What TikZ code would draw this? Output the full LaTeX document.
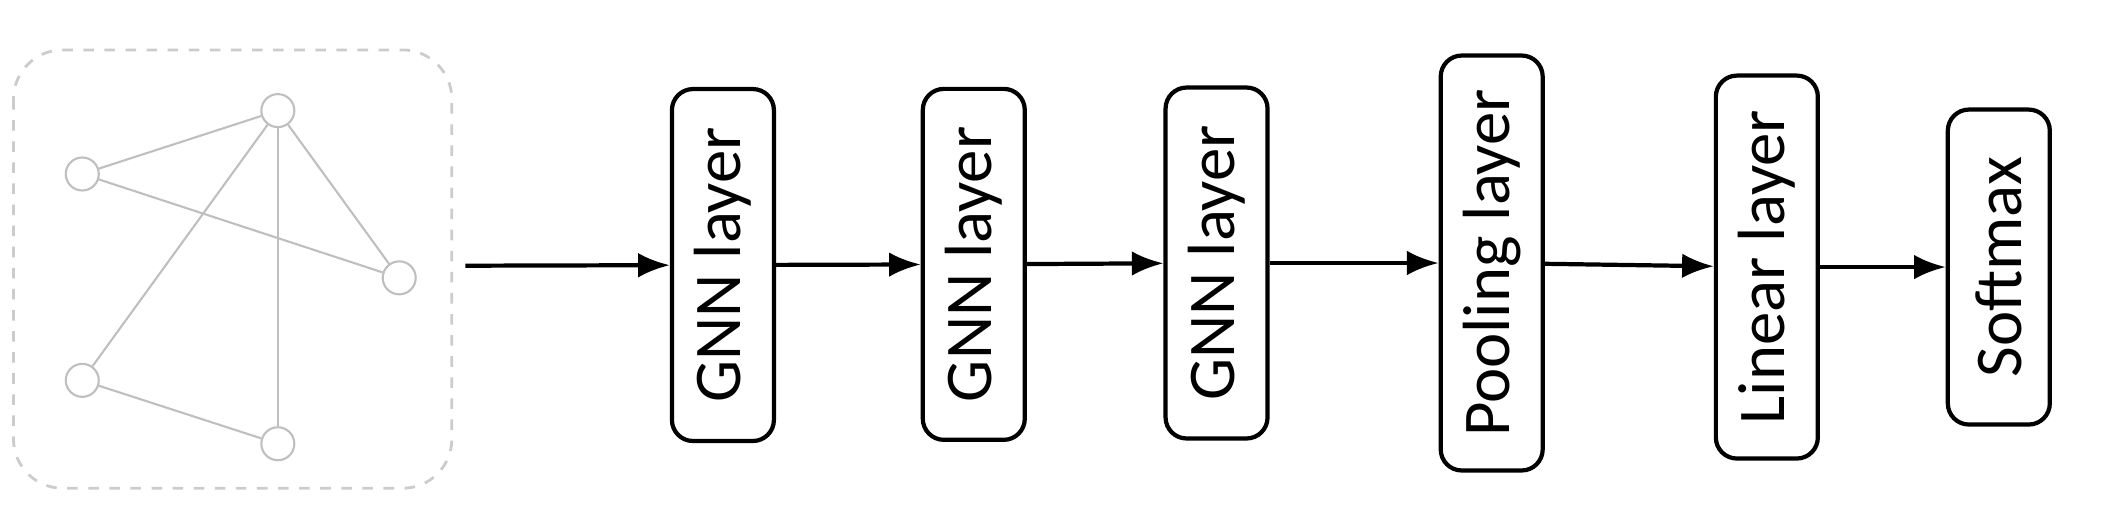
\documentclass[tikz,border=0pt]{standalone}
\usepackage{fontspec}
\setmainfont{Carlito}
\usetikzlibrary{positioning, arrows.meta}
\begin{document}
\begin{tikzpicture}[x=0.01349cm, y=-0.01349cm]
			\tikzset{arrow/.style={-{Latex[length=9pt,width=7pt]}, line width=1.2pt}}
			\tikzset{layer/.style={draw, line width=1.2pt, rounded corners=6pt, rotate=90, minimum height=1.02cm, inner sep=0pt, font=\fontsize{19}{22}\selectfont}}
			\tikzset{vertex/.style={draw=black!25, circle, fill=white, minimum size=0.33cm, inner sep=0pt, line width=0.6pt}}
			\tikzset{edge/.style={draw=black!25, line width=0.6pt}}

			\useasboundingbox (0,0) rectangle (1560,394);
			\draw[black!20, dashed, line width=0.8pt, rounded corners=14pt] (10,37) rectangle (335,362);

			\node (va) [vertex] at (61,129) {};
			\node (vb) [vertex] at (206,82) {};
			\node (vc) [vertex] at (296,206) {};
			\node (vd) [vertex] at (61,282) {};
			\node (ve) [vertex] at (206,329) {};
			\foreach \s/\e in {va/vb, va/vc, vb/vc, vb/vd, vb/ve, vd/ve}
				\draw[edge] (\s) -- (\e);

			\coordinate (in) at (345,197);
			\node (gnn1) [layer, minimum width=3.52cm] at (536,196.5) {GNN layer};
			\node (gnn2) [layer, minimum width=3.51cm] at (722,196) {GNN layer};
			\node (gnn3) [layer, minimum width=3.51cm] at (902,195) {GNN layer};
			\node (pool) [layer, minimum width=4.15cm] at (1106,195) {Pooling layer};
			\node (lin) [layer, minimum width=3.83cm] at (1310,198) {Linear layer};
			\node (soft) [layer, minimum width=3.15cm] at (1482,198) {Softmax};

			\draw[arrow] (in) -- (gnn1);
			\foreach \s/\e in {gnn1/gnn2, gnn2/gnn3, gnn3/pool, pool/lin, lin/soft}
				\draw[arrow] (\s) -- (\e);
\end{tikzpicture}
\end{document}
